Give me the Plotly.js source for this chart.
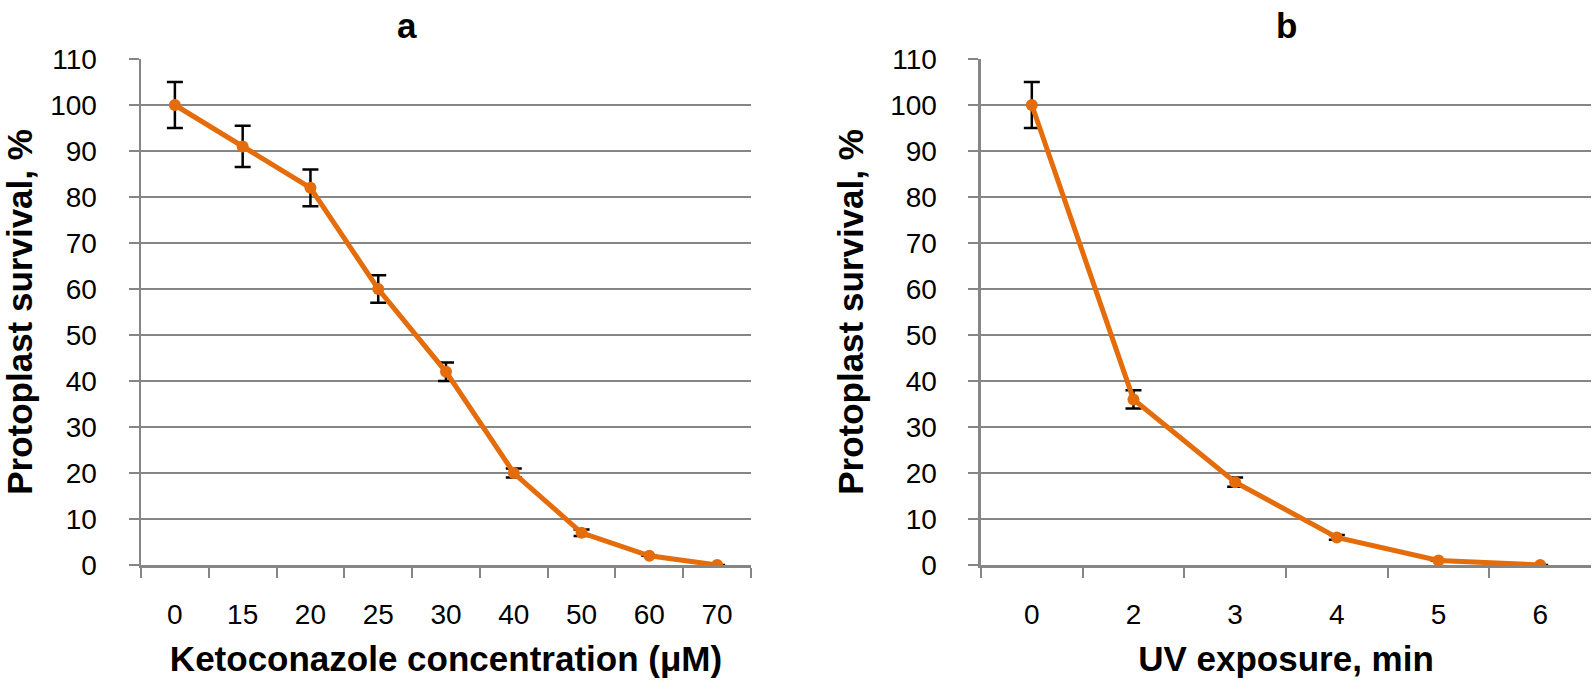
<!DOCTYPE html>
<html>
<head>
<meta charset="utf-8">
<script src="https://cdn.plot.ly/plotly-3.0.1.min.js"></script>
<style>html,body{margin:0;padding:0;background:#fff;}</style>
</head>
<body>
<div id="chart" style="width:1594px;height:687px;"></div>
<script>
// Panel a: Ketoconazole
const ketoConc = ['0', '15', '20', '25', '30', '40', '50', '60', '70'];
const ketoSurvival = [100, 91, 82, 60, 42, 20, 7, 2, 0];
const ketoError = [5, 4.5, 4, 3, 2, 1, 0.7, 0, 0];

// Panel b: UV exposure
const uvMin = ['0', '2', '3', '4', '5', '6'];
const uvSurvival = [100, 36, 18, 6, 1, 0];
const uvError = [5, 2, 1, 0.5, 0, 0];

const yTicks = [0, 10, 20, 30, 40, 50, 60, 70, 80, 90, 100, 110];

const ORANGE = '#E46C0A';
const GRID = '#868686';
const FONT = 'Liberation Sans, Arial, sans-serif';

function series(x, y, err, xa, ya) {
  return {
    type: 'scatter', mode: 'lines+markers',
    x: x, y: y, xaxis: xa, yaxis: ya,
    line: {color: ORANGE, width: 5},
    marker: {color: ORANGE, size: 12},
    error_y: {type: 'data', array: err, visible: true, color: '#000000', thickness: 2.5, width: 8},
    showlegend: false, hoverinfo: 'x+y'
  };
}

const data = [
  series(ketoConc, ketoSurvival, ketoError, 'x', 'y'),
  series(uvMin, uvSurvival, uvError, 'x2', 'y2')
];

function yAxis(anchor) {
  return {
    anchor: anchor,
    range: [0, 110],
    tickvals: yTicks,
    ticktext: yTicks.map(String),
    showgrid: true, gridcolor: GRID, gridwidth: 2,
    showline: true, linecolor: GRID, linewidth: 2.5,
    zeroline: false,
    ticks: 'outside', ticklen: 10, tickcolor: GRID, tickwidth: 2,
    ticklabelstandoff: 26,
    tickfont: {family: FONT, size: 28, color: '#000'},
    title: {text: 'Protoplast survival, %', standoff: 16,
            font: {family: FONT, size: 35, color: '#000', weight: 'bold'}},
    fixedrange: true
  };
}

function xAxis(anchor, domain, n, title) {
  return {
    anchor: anchor,
    domain: domain,
    type: 'category',
    range: [-0.5, n - 0.5],
    tickson: 'boundaries',
    showgrid: false,
    showline: true, linecolor: GRID, linewidth: 2.5,
    zeroline: false,
    ticks: 'outside', ticklen: 10, tickcolor: GRID, tickwidth: 2,
    ticklabelstandoff: 23,
    tickfont: {family: FONT, size: 28, color: '#000'},
    title: {text: title, standoff: 18,
            font: {family: FONT, size: 35, color: '#000', weight: 'bold'}},
    fixedrange: true
  };
}

const layout = {
  width: 1594, height: 687,
  margin: {l: 141, r: 3, t: 59, b: 122},
  paper_bgcolor: '#ffffff', plot_bgcolor: '#ffffff',
  font: {family: FONT, color: '#000'},
  xaxis: xAxis('y', [0, 0.4207], ketoConc.length, 'Ketoconazole concentration (μM)'),
  yaxis: yAxis('x'),
  xaxis2: xAxis('y2', [0.5793, 1], uvMin.length, 'UV exposure, min'),
  yaxis2: yAxis('x2'),
  annotations: [
    {text: 'a', xref: 'paper', yref: 'paper', x: 0.1834, y: 1.067, xanchor: 'center', yanchor: 'middle',
     showarrow: false, font: {family: FONT, size: 35, color: '#000', weight: 'bold'}},
    {text: 'b', xref: 'paper', yref: 'paper', x: 0.7897, y: 1.067, xanchor: 'center', yanchor: 'middle',
     showarrow: false, font: {family: FONT, size: 35, color: '#000', weight: 'bold'}}
  ]
};

Plotly.newPlot('chart', data, layout, {displayModeBar: false, staticPlot: true});
</script>
</body>
</html>
